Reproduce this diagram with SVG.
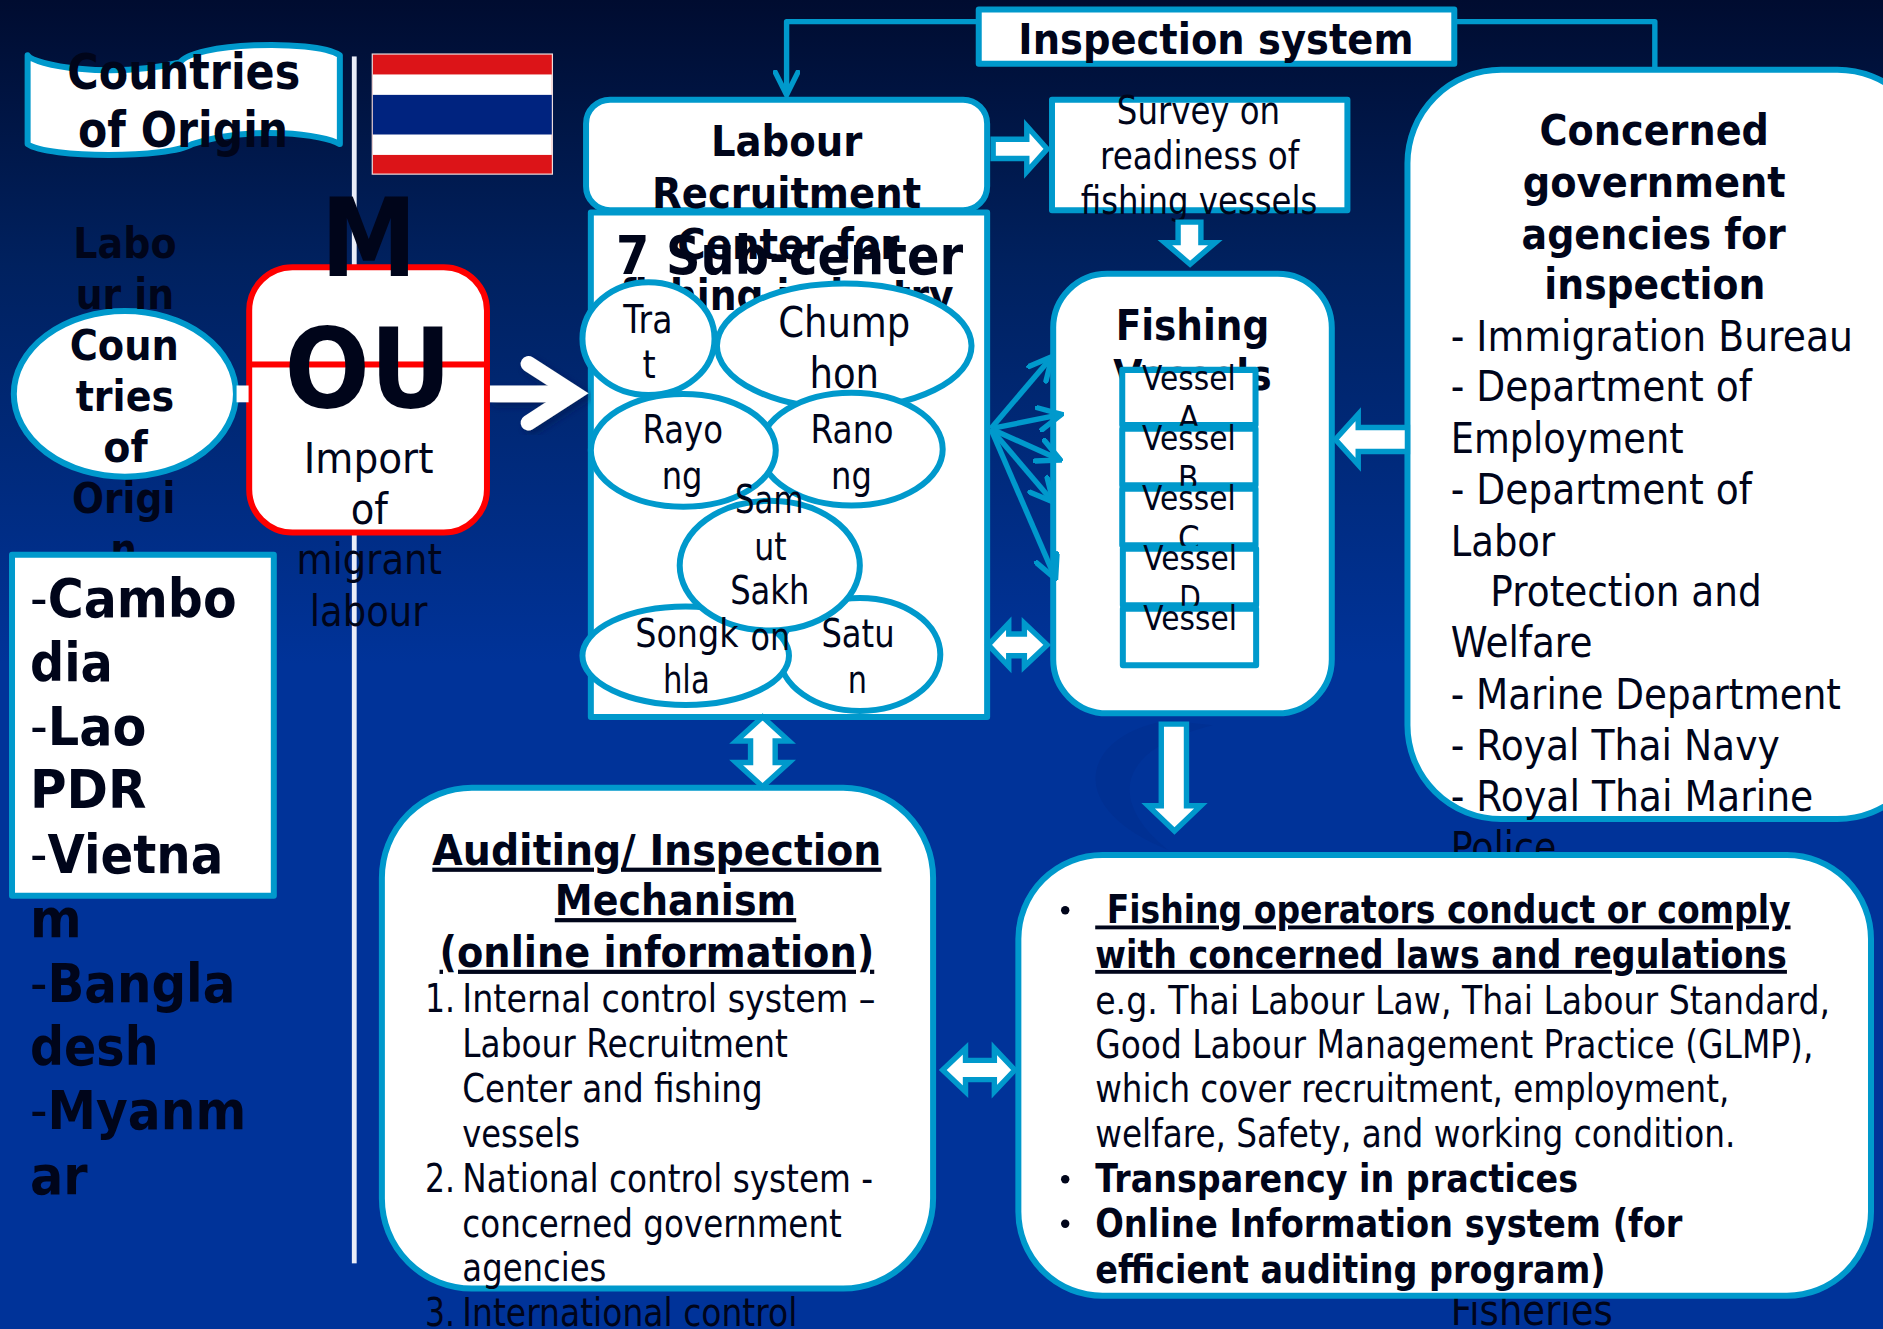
<svg xmlns="http://www.w3.org/2000/svg" width="1883" height="1329" viewBox="0 0 1883 1329">
<style>
text{font-family:"DejaVu Sans","Liberation Sans",sans-serif;fill:#00051a}
.b{font-weight:700}
.u{text-decoration:underline}
.box{fill:#fff;stroke:#0099cc;stroke-width:5;stroke-linejoin:round}
.ln{fill:none;stroke:#0099cc;stroke-width:4.5;stroke-linejoin:round}
.ba{fill:#fff;stroke:#0099cc;stroke-width:4.5;stroke-linejoin:miter}
.s28{font-size:28px}.s32{font-size:32px}.s36{font-size:36px}.s44{font-size:44px}
</style>
<defs>
<linearGradient id="bg" x1="0" y1="0" x2="0" y2="1"><stop offset="0" stop-color="#000c30"/><stop offset=".2" stop-color="#00215f"/><stop offset=".5" stop-color="#003399"/><stop offset="1" stop-color="#003399"/></linearGradient>
<marker id="open" viewBox="0 0 12 12" refX="11" refY="6" markerWidth="5" markerHeight="5" orient="auto" markerUnits="strokeWidth"><path d="M1,1 L11,6 L1,11" fill="none" stroke="#0099cc" stroke-width="2.400" stroke-linecap="round"/></marker>
<filter id="sh" x="-20%" y="-20%" width="140%" height="140%"><feDropShadow dx="3" dy="3" stdDeviation="3" flood-color="#001a55" flood-opacity=".7"/></filter>
</defs>
<rect width="1883" height="1329" fill="url(#bg)"/>
<g transform="scale(1.2009)">
<path id="swirl" d="M973,600 C905,610 880,670 973,708 C925,670 925,625 1010,604 Z" fill="#003093"/>
<rect id="divider" x="293" y="47" width="4" height="1005" fill="#e9edf8"/>

<g id="countries-of-origin">
<path class="box" d="M23,46 C28,54 90,66 150,52 C160,36 260,32 283,46 L283,120 C270,112 210,104 160,120 C140,132 40,132 23,120 Z"/>
<text class="b" font-size="41" x="56" y="74" textLength="194" lengthAdjust="spacingAndGlyphs">Countries</text>
<text class="b" font-size="41" x="65" y="122" textLength="175" lengthAdjust="spacingAndGlyphs">of Origin</text>
</g>

<g id="thai-flag">
<rect x="310" y="45" width="150" height="100" fill="#dc1418" stroke="#ecdcdc" stroke-width="1"/>
<rect x="310.500" y="62" width="149" height="67" fill="#fff"/>
<rect x="310.500" y="79" width="149" height="33" fill="#00237f"/>
</g>

<g id="labour-in-countries">
<ellipse class="box" cx="104" cy="328" rx="92.500" ry="69"/>
<text class="b s36" x="61" y="215" textLength="86" lengthAdjust="spacingAndGlyphs">Labo</text>
<text class="b s36" x="63" y="257" textLength="82" lengthAdjust="spacingAndGlyphs">ur in</text>
<text class="b s36" x="58" y="300" textLength="91" lengthAdjust="spacingAndGlyphs">Coun</text>
<text class="b s36" x="63" y="342" textLength="82" lengthAdjust="spacingAndGlyphs">tries</text>
<text class="b s36" x="86" y="385" textLength="37" lengthAdjust="spacingAndGlyphs">of</text>
<text class="b s36" x="60" y="427" textLength="86" lengthAdjust="spacingAndGlyphs">Origi</text>
<text class="b s36" x="92" y="470" textLength="22" lengthAdjust="spacingAndGlyphs">n</text>
</g>

<g id="source-countries">
<rect class="box" x="10" y="462" width="218" height="284"/>
<text class="b s44" x="25" y="514" textLength="172" lengthAdjust="spacingAndGlyphs"><tspan font-weight="400">-</tspan>Cambo</text>
<text class="b s44" x="25" y="567" textLength="69" lengthAdjust="spacingAndGlyphs">dia</text>
<text class="b s44" x="25" y="620" textLength="97" lengthAdjust="spacingAndGlyphs"><tspan font-weight="400">-</tspan>Lao</text>
<text class="b s44" x="25" y="673" textLength="97" lengthAdjust="spacingAndGlyphs">PDR</text>
<text class="b s44" x="25" y="727" textLength="161" lengthAdjust="spacingAndGlyphs"><tspan font-weight="400">-</tspan>Vietna</text>
<text class="b s44" x="25" y="780" textLength="43" lengthAdjust="spacingAndGlyphs">m</text>
<text class="b s44" x="25" y="834" textLength="171" lengthAdjust="spacingAndGlyphs"><tspan font-weight="400">-</tspan>Bangla</text>
<text class="b s44" x="25" y="887" textLength="107" lengthAdjust="spacingAndGlyphs">desh</text>
<text class="b s44" x="25" y="940" textLength="180" lengthAdjust="spacingAndGlyphs"><tspan font-weight="400">-</tspan>Myanm</text>
<text class="b s44" x="25" y="994" textLength="48" lengthAdjust="spacingAndGlyphs">ar</text>
</g>

<g id="mou">
<rect x="207.500" y="222.500" width="198" height="221" rx="36" fill="#fff" stroke="#ff0000" stroke-width="5"/>
<rect x="207" y="301" width="199" height="5" fill="#ff0000"/>
<text class="b" font-size="90" x="267" y="230" textLength="80" lengthAdjust="spacingAndGlyphs">M</text>
<text class="b" font-size="92" x="237" y="339" textLength="139" lengthAdjust="spacingAndGlyphs">OU</text>
<text font-size="35" x="253" y="394" textLength="108" lengthAdjust="spacingAndGlyphs">Import</text>
<text font-size="35" x="292" y="436" textLength="31" lengthAdjust="spacingAndGlyphs">of</text>
<text font-size="35" x="247" y="478" textLength="121" lengthAdjust="spacingAndGlyphs">migrant</text>
<text font-size="35" x="258" y="521" textLength="98" lengthAdjust="spacingAndGlyphs">labour</text>
</g>

<g id="sub-center">
<rect class="box" x="492" y="177" width="330" height="420"/>
</g>

<g id="labour-recruitment">
<rect class="box" x="488" y="83" width="334" height="92" rx="20"/>
<text class="b" font-size="35" x="592" y="130" textLength="126" lengthAdjust="spacingAndGlyphs">Labour</text>
<text class="b" font-size="35" x="543" y="173" textLength="224" lengthAdjust="spacingAndGlyphs">Recruitment</text>
<text class="b" font-size="35" x="564" y="216" textLength="185" lengthAdjust="spacingAndGlyphs">Center for</text>
<text class="b" font-size="35" x="516" y="258" textLength="278" lengthAdjust="spacingAndGlyphs">fishing industry</text>
<text class="b s44" x="513" y="228" textLength="289" lengthAdjust="spacingAndGlyphs">7 Sub-center</text>
</g>

<g id="trat">
<ellipse class="box" cx="540" cy="282" rx="55" ry="47"/>
<text class="s32" x="519" y="277" textLength="41" lengthAdjust="spacingAndGlyphs">Tra</text>
<text class="s32" x="535" y="315" textLength="11" lengthAdjust="spacingAndGlyphs">t</text>
</g>
<g id="chumphon">
<ellipse class="box" cx="703" cy="288" rx="106" ry="52"/>
<text class="s36" x="648" y="281" textLength="110" lengthAdjust="spacingAndGlyphs">Chump</text>
<text class="s36" x="674" y="323" textLength="58" lengthAdjust="spacingAndGlyphs">hon</text>
</g>
<g id="ranong">
<ellipse class="box" cx="709" cy="374" rx="76" ry="47"/>
<text class="s32" x="675" y="369" textLength="69" lengthAdjust="spacingAndGlyphs">Rano</text>
<text class="s32" x="692" y="407" textLength="34" lengthAdjust="spacingAndGlyphs">ng</text>
</g>
<g id="rayong">
<ellipse class="box" cx="569" cy="375" rx="77" ry="47"/>
<text class="s32" x="535" y="369" textLength="67" lengthAdjust="spacingAndGlyphs">Rayo</text>
<text class="s32" x="551" y="407" textLength="34" lengthAdjust="spacingAndGlyphs">ng</text>
</g>
<g id="satun">
<ellipse class="box" cx="716" cy="545" rx="67" ry="47"/>
<text class="s32" x="684" y="539" textLength="61" lengthAdjust="spacingAndGlyphs">Satu</text>
<text class="s32" x="706" y="577" textLength="16" lengthAdjust="spacingAndGlyphs">n</text>
</g>
<g id="songkhla">
<ellipse class="box" cx="571" cy="546" rx="86" ry="41"/>
<text class="s32" x="552" y="577" textLength="39" lengthAdjust="spacingAndGlyphs">hla</text>
</g>
<g id="samut-sakhon">
<ellipse class="box" cx="641" cy="471" rx="75" ry="54"/>
<text class="s32" x="612" y="427" textLength="57" lengthAdjust="spacingAndGlyphs">Sam</text>
<text class="s32" x="628" y="466" textLength="27" lengthAdjust="spacingAndGlyphs">ut</text>
<text class="s32" x="608" y="503" textLength="66" lengthAdjust="spacingAndGlyphs">Sakh</text>
<text class="s32" x="625" y="541" textLength="33" lengthAdjust="spacingAndGlyphs">on</text>
<text class="s32" x="529" y="539" textLength="86" lengthAdjust="spacingAndGlyphs">Songk</text>
</g>

<g id="survey">
<rect class="box" x="876" y="83" width="246" height="92"/>
<text class="s32" x="930" y="103" textLength="136" lengthAdjust="spacingAndGlyphs">Survey on</text>
<text class="s32" x="916" y="141" textLength="166" lengthAdjust="spacingAndGlyphs">readiness of</text>
<text class="s32" x="900" y="178" textLength="197" lengthAdjust="spacingAndGlyphs">fishing vessels</text>
</g>

<g id="inspection-system">
<rect class="box" x="815" y="8" width="396" height="45"/>
<text class="b" font-size="35" x="848" y="45" textLength="329" lengthAdjust="spacingAndGlyphs">Inspection system</text>
</g>

<g id="fishing-vessels">
<rect class="box" x="877" y="228" width="232" height="366" rx="45"/>
<text class="b" font-size="35" x="929" y="283" textLength="128" lengthAdjust="spacingAndGlyphs">Fishing</text>
<text class="b" font-size="35" x="927" y="325" textLength="132" lengthAdjust="spacingAndGlyphs">Vessels</text>
</g>
<g id="vessel-a">
<rect class="box" x="934.500" y="308" width="111" height="46"/>
<text class="s28" x="951" y="325" textLength="78" lengthAdjust="spacingAndGlyphs">Vessel</text>
<text class="s28" x="981" y="358" textLength="18" lengthAdjust="spacingAndGlyphs">A</text>
</g>
<g id="vessel-b">
<rect class="box" x="934.500" y="357" width="111" height="47"/>
<text class="s28" x="951" y="375" textLength="78" lengthAdjust="spacingAndGlyphs">Vessel</text>
<text class="s28" x="981" y="408" textLength="17" lengthAdjust="spacingAndGlyphs">B</text>
</g>
<g id="vessel-c">
<rect class="box" x="934.500" y="407" width="111" height="47"/>
<text class="s28" x="951" y="425" textLength="78" lengthAdjust="spacingAndGlyphs">Vessel</text>
<text class="s28" x="981" y="458" textLength="18" lengthAdjust="spacingAndGlyphs">C</text>
</g>
<g id="vessel-d">
<rect class="box" x="935" y="457" width="111" height="47"/>
<text class="s28" x="952" y="475" textLength="78" lengthAdjust="spacingAndGlyphs">Vessel</text>
<text class="s28" x="982" y="508" textLength="18" lengthAdjust="spacingAndGlyphs">D</text>
</g>
<g id="vessel-e">
<rect class="box" x="935" y="507" width="111" height="47"/>
<text class="s28" x="952" y="525" textLength="78" lengthAdjust="spacingAndGlyphs">Vessel</text>
</g>

<g id="concerned-agencies">
<rect class="box" x="1172" y="58" width="436" height="624" rx="78"/>
<text class="b s36" x="1282" y="121" textLength="191" lengthAdjust="spacingAndGlyphs">Concerned</text>
<text class="b s36" x="1268" y="164" textLength="219" lengthAdjust="spacingAndGlyphs">government</text>
<text class="b s36" x="1267" y="207" textLength="220" lengthAdjust="spacingAndGlyphs">agencies for</text>
<text class="b s36" x="1286" y="249" textLength="184" lengthAdjust="spacingAndGlyphs">inspection</text>
<text class="s36" x="1208" y="292" textLength="335" lengthAdjust="spacingAndGlyphs">- Immigration Bureau</text>
<text class="s36" x="1208" y="334" textLength="251" lengthAdjust="spacingAndGlyphs">- Department of</text>
<text class="s36" x="1208" y="377" textLength="194" lengthAdjust="spacingAndGlyphs">Employment</text>
<text class="s36" x="1208" y="463" textLength="87" lengthAdjust="spacingAndGlyphs">Labor</text>
<text class="s36" x="1208" y="420" textLength="251" lengthAdjust="spacingAndGlyphs">- Department of</text>
<text class="s36" x="1241" y="505" textLength="226" lengthAdjust="spacingAndGlyphs">Protection and</text>
<text class="s36" x="1208" y="547" textLength="118" lengthAdjust="spacingAndGlyphs">Welfare</text>
<text class="s36" x="1208" y="590" textLength="325" lengthAdjust="spacingAndGlyphs">- Marine Department</text>
<text class="s36" x="1208" y="633" textLength="274" lengthAdjust="spacingAndGlyphs">- Royal Thai Navy</text>
<text class="s36" x="1208" y="675" textLength="302" lengthAdjust="spacingAndGlyphs">- Royal Thai Marine</text>
<text class="s36" x="1208" y="718" textLength="88" lengthAdjust="spacingAndGlyphs">Police</text>
<text class="s36" x="1208" y="1103" textLength="135" lengthAdjust="spacingAndGlyphs">Fisheries</text>
</g>

<g id="auditing">
<rect class="box" x="318" y="656" width="459" height="417" rx="75"/>
<text class="b u" font-size="35" x="360" y="720" textLength="374" lengthAdjust="spacingAndGlyphs">Auditing/ Inspection</text>
<text class="b u" font-size="35" x="462" y="762" textLength="201" lengthAdjust="spacingAndGlyphs">Mechanism</text>
<text class="b u" font-size="35" x="366" y="805" textLength="362" lengthAdjust="spacingAndGlyphs">(online information)</text>
<text class="s32" x="354" y="843" textLength="25" lengthAdjust="spacingAndGlyphs">1.</text>
<text class="s32" x="385" y="843" textLength="344" lengthAdjust="spacingAndGlyphs">Internal control system –</text>
<text class="s32" x="385" y="880" textLength="271" lengthAdjust="spacingAndGlyphs">Labour Recruitment</text>
<text class="s32" x="385" y="918" textLength="250" lengthAdjust="spacingAndGlyphs">Center and fishing</text>
<text class="s32" x="385" y="955" textLength="98" lengthAdjust="spacingAndGlyphs">vessels</text>
<text class="s32" x="354" y="993" textLength="25" lengthAdjust="spacingAndGlyphs">2.</text>
<text class="s32" x="385" y="993" textLength="342" lengthAdjust="spacingAndGlyphs">National control system -</text>
<text class="s32" x="385" y="1030" textLength="316" lengthAdjust="spacingAndGlyphs">concerned government</text>
<text class="s32" x="385" y="1067" textLength="120" lengthAdjust="spacingAndGlyphs">agencies</text>
<text class="s32" x="354" y="1104" textLength="25" lengthAdjust="spacingAndGlyphs">3.</text>
<text class="s32" x="385" y="1104" textLength="279" lengthAdjust="spacingAndGlyphs">International control</text>
</g>

<g id="requirements">
<rect class="box" x="848" y="712" width="710" height="367" rx="70"/>
<circle cx="887" cy="758" r="3.500" fill="#00051a"/>
<circle cx="887" cy="982" r="3.500" fill="#00051a"/>
<circle cx="887" cy="1019" r="3.500" fill="#00051a"/>
<text class="b u s32" x="912" y="769" textLength="579" lengthAdjust="spacingAndGlyphs" xml:space="preserve"> Fishing operators conduct or comply</text>
<text class="b u s32" x="912" y="806" textLength="576" lengthAdjust="spacingAndGlyphs">with concerned laws and regulations</text>
<text class="s32" x="912" y="844" textLength="612" lengthAdjust="spacingAndGlyphs">e.g. Thai Labour Law, Thai Labour Standard,</text>
<text class="s32" x="912" y="881" textLength="598" lengthAdjust="spacingAndGlyphs">Good Labour Management Practice (GLMP),</text>
<text class="s32" x="912" y="918" textLength="528" lengthAdjust="spacingAndGlyphs">which cover recruitment, employment,</text>
<text class="s32" x="912" y="955" textLength="533" lengthAdjust="spacingAndGlyphs">welfare, Safety, and working condition.</text>
<text class="b s32" x="912" y="993" textLength="402" lengthAdjust="spacingAndGlyphs">Transparency in practices</text>
<text class="b s32" x="912" y="1030" textLength="489" lengthAdjust="spacingAndGlyphs">Online Information system (for</text>
<text class="b s32" x="912" y="1068" textLength="425" lengthAdjust="spacingAndGlyphs">efficient auditing program)</text>
</g>

<g id="connectors">
<rect x="197" y="321" width="10" height="14" fill="#fff"/>
<g filter="url(#sh)">
<rect x="408" y="321" width="69" height="14" fill="#fff"/>
<path d="M440,303 L478,327.500 L440,352" fill="none" stroke="#fff" stroke-width="13" stroke-linecap="round" stroke-linejoin="miter"/>
</g>
<path class="ln" d="M815,18 H655 V79" marker-end="url(#open)"/>
<path class="ln" d="M1211,18 H1378 V58"/>
<polygon class="ba" points="827,116 855,116 855,105 872,124 855,143 855,132 827,132"/>
<polygon class="ba" points="981,185 1000,185 1000,202 1012,202 991,220 970,202 981,202"/>
<polygon class="ba" points="1172,356 1131,356 1131,345 1112,366 1131,387 1131,376 1172,376"/>
<polygon class="ba" points="823,537 840,519 840,528 853,528 853,519 872,537 853,555 853,546 840,546 840,555"/>
<polygon class="ba" points="635,597 657,617 645.500,617 645.500,635 657,635 635,655 613,635 625,635 625,617 613,617"/>
<polygon class="ba" points="785,891 804,873 804,883 828,883 828,873 845,891 828,909 828,899 804,899 804,909"/>
<polygon class="ba" points="967,603 988,603 988,671 1000,671 978,692 956,671 967,671"/>
<path class="ln" d="M825,357 L876,297" marker-end="url(#open)"/>
<path class="ln" d="M825,357 L884,345" marker-end="url(#open)"/>
<path class="ln" d="M825,357 L883,383" marker-end="url(#open)"/>
<path class="ln" d="M825,357 L877,418" marker-end="url(#open)"/>
<path class="ln" d="M825,357 L879,482" marker-end="url(#open)"/>
</g>
</g>
</svg>
